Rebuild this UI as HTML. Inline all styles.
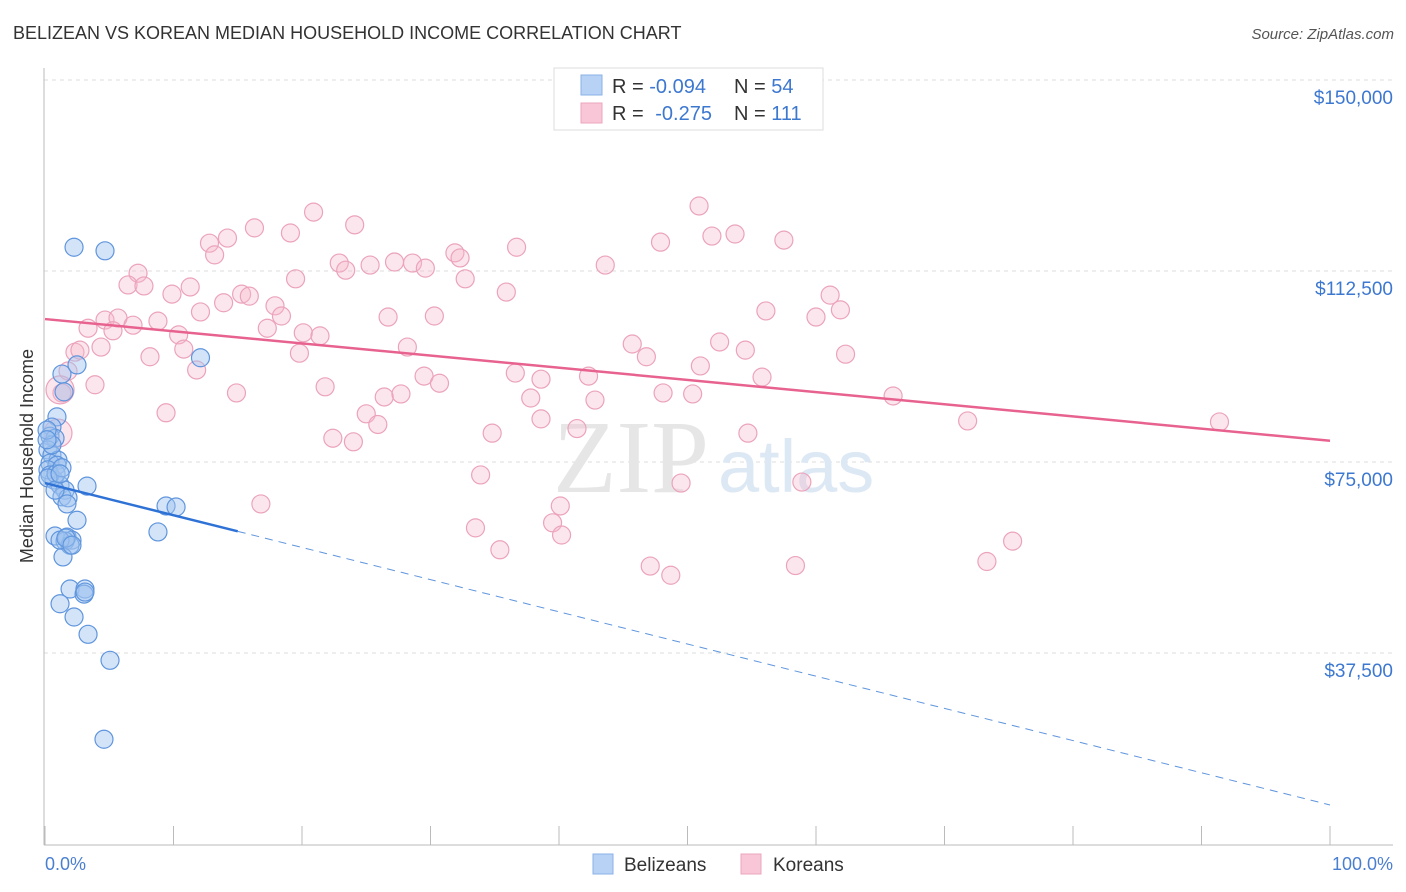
<!DOCTYPE html>
<html><head><meta charset="utf-8"><style>
body{margin:0;background:#fff;font-family:"Liberation Sans",sans-serif}
svg{display:block}
</style></head><body>
<svg id="c" width="1406" height="892" xmlns="http://www.w3.org/2000/svg">
<text x="13" y="39" font-size="18" fill="#333">BELIZEAN VS KOREAN MEDIAN HOUSEHOLD INCOME CORRELATION CHART</text>
<text x="1394" y="39" font-size="15" fill="#555" text-anchor="end" font-style="italic">Source: ZipAtlas.com</text>
<text x="33" y="456" font-size="18" fill="#333" text-anchor="middle" transform="rotate(-90 33 456)">Median Household Income</text>
<g id="grid"></g>
<line x1="44" y1="68" x2="44" y2="845" stroke="#bbb"/>
<line x1="44" y1="845" x2="1393" y2="845" stroke="#bbb"/>
<g id="ticks"></g>
<text x="553" y="492" font-size="104" fill="#e6e6e6" font-family="Liberation Serif,serif">ZIP</text>
<text x="718" y="492" font-size="74" fill="#dde8f5">atlas</text>
<g id="pts"></g>
<g id="trend"></g>
<text x="45" y="870" font-size="18" fill="#4a7fd0">0.0%</text>
<text x="1393" y="870" font-size="18" fill="#4a7fd0" text-anchor="end">100.0%</text>
<g>
<rect x="554" y="68" width="269" height="62" fill="#fff" stroke="#ddd"/>
<rect x="581" y="75" width="21" height="20" fill="#b8d2f5" stroke="#8ab0e6"/>
<rect x="581" y="103" width="21" height="20" fill="#f8c6d6" stroke="#eca6bd"/>
<text x="612" y="93" font-size="20" fill="#333">R = <tspan fill="#3d78d0">-0.094</tspan></text>
<text x="734" y="93" font-size="20" fill="#333">N = <tspan fill="#3d78d0">54</tspan></text>
<text x="612" y="120" font-size="20" fill="#333">R = <tspan fill="#3d78d0" dx="6">-0.275</tspan></text>
<text x="734" y="120" font-size="20" fill="#333">N = <tspan fill="#3d78d0">111</tspan></text>
</g>
<g>
<rect x="593" y="854" width="20" height="20" fill="#b8d2f5" stroke="#8ab0e6"/>
<text x="624" y="871" font-size="19" fill="#333">Belizeans</text>
<rect x="741" y="854" width="20" height="20" fill="#f8c6d6" stroke="#eca6bd"/>
<text x="773" y="871" font-size="19" fill="#333">Koreans</text>
</g>
</svg>
<script>
const yTicks=[150000,112500,75000,37500];
const yTickLabels=["$150,000","$112,500","$75,000","$37,500"];
const xTickPcts=[0,10,20,30,40,50,60,70,80,90,100];
const belX=[2.26,4.67,12.1,1.32,2.49,1.48,0.93,0.54,0.39,0.78,0.23,0.54,1.01,0.39,0.93,0.70,1.17,3.27,1.56,1.32,1.79,1.71,9.42,10.2,2.49,8.79,0.78,1.71,2.10,1.56,1.95,1.40,1.95,3.11,1.17,3.04,2.26,3.35,5.06,4.59,0.23,0.39,0.86,0.54,0.16,1.17,1.32,0.23,0.78,1.17,1.63,2.10,3.11,0.16];
const belY=[120.5,119.8,98.8,95.6,97.4,92.1,87.2,85.2,83.4,83.0,80.7,79.7,78.7,78.1,77.7,74.8,73.8,73.6,72.8,71.5,71.3,70.1,69.7,69.5,66.9,64.6,63.8,63.6,63.0,62.8,62.0,59.7,53.4,53.4,50.5,52.4,47.9,44.5,39.4,23.9,76.8,75.8,76.0,81.7,84.6,63.0,77.2,75.2,72.8,76.0,63.4,62.0,52.8,82.7];
const korX=[50.9,20.9,24.1,16.3,14.2,19.1,12.8,13.2,36.7,47.9,51.9,53.7,57.5,31.9,32.3,22.9,23.4,25.3,27.2,28.6,29.6,43.6,7.24,19.5,32.7,6.46,7.70,11.3,9.88,35.9,15.3,15.9,13.9,17.9,12.1,18.4,3.35,4.67,5.68,6.85,8.79,17.3,26.7,30.3,56.1,60.0,61.1,61.9,10.4,20.1,21.4,5.29,2.33,2.72,4.36,10.8,19.8,28.2,45.7,46.8,52.5,54.5,62.3,8.17,11.8,1.79,51.0,3.89,1.32,14.9,21.8,29.5,30.7,36.6,38.6,42.3,55.8,26.4,27.7,37.8,42.8,48.1,50.4,66.0,9.42,25.0,25.9,38.6,41.4,71.8,91.4,22.4,24.0,34.8,54.7,33.9,49.5,58.9,16.8,40.1,33.5,39.5,40.2,35.4,75.3,47.1,48.7,58.4,73.3,1.01,1.17];
const korY=[128.6,127.4,124.9,124.3,122.3,123.3,121.3,119.0,120.5,121.5,122.7,123.1,121.9,119.4,118.4,117.4,116.0,117.0,117.6,117.4,116.4,117.0,115.4,114.3,114.3,113.1,112.9,112.7,111.3,111.7,111.3,110.9,109.6,109.0,107.8,107.0,104.6,106.2,106.6,105.2,106.0,104.6,106.8,107.0,108.0,106.8,111.1,108.2,103.3,103.7,103.1,104.1,99.9,100.3,100.9,100.5,99.7,100.9,101.5,99.0,101.9,100.3,99.5,99.0,96.4,96.2,97.2,93.5,91.9,91.9,93.1,95.2,93.8,95.8,94.6,95.2,95.0,91.1,91.7,90.9,90.5,91.9,91.7,91.3,88.0,87.8,85.7,86.8,84.9,86.4,86.2,83.0,82.3,84.0,84.0,75.8,74.2,74.4,70.1,69.7,65.4,66.4,64.0,61.1,62.8,57.9,56.1,58.0,58.8,84.0,92.5];
const belTrend=[74.2,11.0];
const korTrend=[106.4,82.5];
const belSolidEnd=15;
const NS="http://www.w3.org/2000/svg";
function X(p){return 45+p*12.85;}
function Y(k){return 97+(150-k)/0.19634;}
function mk(tag,attrs,parent){const e=document.createElementNS(NS,tag);for(const k in attrs)e.setAttribute(k,attrs[k]);parent.appendChild(e);return e;}
const grid=document.getElementById('grid');
mk('line',{x1:44,x2:1393,y1:80,y2:80,stroke:'#ddd','stroke-dasharray':'4,4'},grid);
yTicks.forEach((v,i)=>{
  const yy=Y(v/1000);
  if(i>0){const l=mk('line',{x1:44,x2:1393,y1:yy-17,y2:yy-17,stroke:'#ddd','stroke-dasharray':'4,4'},grid);
  
  }
  const t=mk('text',{x:1393,y:yy+7,'font-size':19,fill:'#3d78d0','text-anchor':'end'},grid);
  
  
  t.textContent=yTickLabels[i];
});
const ticks=document.getElementById('ticks');
xTickPcts.forEach(p=>{const l=mk('line',{x1:X(p),x2:X(p),y1:826,y2:845,stroke:'#bbb'},ticks);

});
const pts=document.getElementById('pts');
korX.forEach((x,i)=>{const r=(i>=korX.length-2)?14:9;const c=mk('circle',{cx:X(x),cy:Y(korY[i]),r:r,fill:'rgba(246,182,202,0.35)',stroke:'#eba3bb','stroke-width':1.2},pts);

});
belX.forEach((x,i)=>{const c=mk('circle',{cx:X(x),cy:Y(belY[i]),r:9,fill:'rgba(160,195,240,0.45)',stroke:'#5f95dd','stroke-width':1.2},pts);

});
const tr=document.getElementById('trend');
function ty(t,p){return t[0]+(t[1]-t[0])*p/100;}
let l1=mk('line',{x1:X(0),y1:Y(ty(korTrend,0)),x2:X(100),y2:Y(ty(korTrend,100)),stroke:'#e8628f','stroke-width':2.5},tr);


let l2=mk('line',{x1:X(0),y1:Y(ty(belTrend,0)),x2:X(belSolidEnd),y2:Y(ty(belTrend,belSolidEnd)),stroke:'#2f72d6','stroke-width':2.5},tr);


let l3=mk('line',{x1:X(belSolidEnd),y1:Y(ty(belTrend,belSolidEnd)),x2:X(100),y2:Y(ty(belTrend,100)),stroke:'#5f95dd','stroke-width':1,'stroke-dasharray':'8,6'},tr);


</script>
</body></html>
